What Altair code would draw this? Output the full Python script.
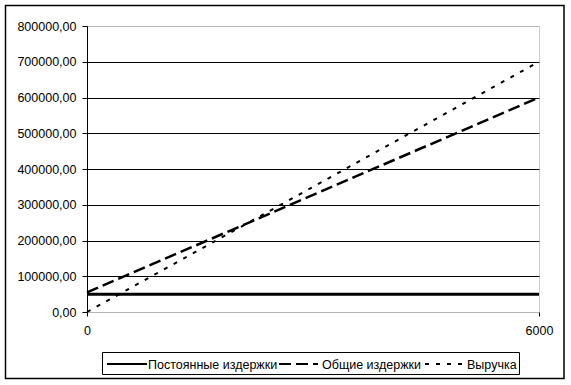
import altair as alt
import pandas as pd

# Break-even chart: fixed costs, total costs and revenue by volume
units = [0, 6000]
fixed_costs = [50000, 50000]
total_costs = [55000, 600000]
revenue = [0, 700000]

series_names = ["Постоянные издержки", "Общие издержки", "Выручка"]
y_ticks = [0, 100000, 200000, 300000, 400000, 500000, 600000, 700000, 800000]
x_ticks = [0, 6000]

dash_styles = [[1, 0], [12, 5], [4, 7]]
line_widths = [3, 2, 2]

rows = []
for name, vals in zip(series_names, [fixed_costs, total_costs, revenue]):
    for u, v in zip(units, vals):
        rows.append({"units": u, "value": v, "series": name})
df = pd.DataFrame(rows)

FONT = "Liberation Sans"
FS = 12.5

edge_test = "datum.value === 0 || datum.value === 800000"

lines = alt.Chart(df).mark_line(color="black", clip=False).encode(
    x=alt.X(
        "units:Q",
        scale=alt.Scale(domain=[0, 6000], nice=False),
        axis=alt.Axis(
            values=x_ticks, title=None, domain=False, grid=False, format="d",
            tickColor="black", tickSize=4, labelPadding=8,
            labelColor="black", labelFont=FONT, labelFontSize=FS,
            labelFlush=False,
        ),
    ),
    y=alt.Y(
        "value:Q",
        scale=alt.Scale(domain=[0, 800000], nice=False),
        axis=alt.Axis(
            values=y_ticks, title=None,
            labelExpr="replace(format(datum.value, '.2f'), '.', ',')",
            domainColor="black", tickColor="black", tickSize=5,
            labelPadding=6, labelColor="black", labelFont=FONT,
            labelFontSize=FS,
            gridColor={"condition": {"test": edge_test, "value": "#9a9a9a"},
                       "value": "black"},
            gridDash={"condition": {"test": edge_test, "value": [1, 1]},
                      "value": []},
        ),
    ),
    strokeDash=alt.StrokeDash(
        "series:N",
        scale=alt.Scale(domain=series_names, range=dash_styles),
        legend=None,
    ),
    strokeWidth=alt.StrokeWidth(
        "series:N",
        scale=alt.Scale(domain=series_names, range=line_widths),
        legend=None,
    ),
)

one = pd.DataFrame({"k": [0]})

# Outer frame around the whole figure
frame = alt.Chart(one).mark_rect(
    fillOpacity=0, stroke="black", strokeWidth=1.5, clip=False
).encode(
    x=alt.value(-81.5), x2=alt.value(477),
    y=alt.value(-20.5), y2=alt.value(352.5),
)

# Legend box below the plot
legend_box = alt.Chart(one).mark_rect(
    fill="white", stroke="black", strokeWidth=1, clip=False
).encode(
    x=alt.value(15.5), x2=alt.value(432.5),
    y=alt.value(326.5), y2=alt.value(348.5),
)

# Legend entries: line sample followed by its label
legend_dashes = [[1, 0], [12, 5], [3, 6]]
sample_spans = [(20, 60), (192, 231), (338, 379)]
label_starts = [61, 235, 380]
legend_layers = []
for name, (a, b), tx in zip(series_names, sample_spans, label_starts):
    legend_layers.append(
        alt.Chart(pd.DataFrame({"series": [name]})).mark_rule(
            color="black", strokeWidth=2, clip=False
        ).encode(
            x=alt.value(a), x2=alt.value(b), y=alt.value(338),
            strokeDash=alt.StrokeDash(
                "series:N",
                scale=alt.Scale(domain=series_names, range=legend_dashes),
                legend=None,
            ),
        )
    )
    legend_layers.append(
        alt.Chart(pd.DataFrame({"series": [name]})).mark_text(
            align="left", baseline="alphabetic", font=FONT, fontSize=FS,
            color="black", clip=False
        ).encode(x=alt.value(tx), y=alt.value(342.5), text="series:N")
    )

chart = alt.layer(frame, lines, legend_box, *legend_layers).properties(
    width=452, height=286,
    padding={"left": 87, "top": 26, "right": 32, "bottom": 73},
    autosize=alt.AutoSizeParams(type="none"),
    background="white",
).configure_view(stroke="#9a9a9a", strokeDash=[1, 1])

chart.save("out.html", embed_options={"renderer": "svg", "actions": False})
